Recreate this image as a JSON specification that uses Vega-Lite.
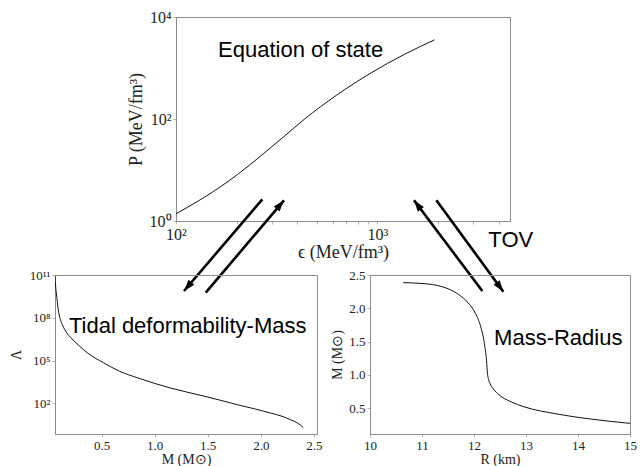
{
  "$schema": "https://vega.github.io/schema/vega-lite/v6.json",
  "background": "white",
  "padding": {"left": 8, "top": 8, "right": 5, "bottom": 2},
  "config": {
    "view": {"stroke": "#8c8c8c", "strokeWidth": 1},
    "axis": {
      "labelFont": "Liberation Serif",
      "titleFont": "Liberation Serif",
      "labelColor": "#222222",
      "titleColor": "#222222",
      "titleFontWeight": "normal",
      "domainColor": "#8c8c8c",
      "tickColor": "#b5b5b5",
      "tickSize": 3,
      "grid": false,
      "labelFlush": false,
      "labelOverlap": false,
      "labelPadding": 2
    }
  },
  "datasets": {
    "eos": [
      {"energy_density": 100, "pressure": 1.39},
      {"energy_density": 138, "pressure": 2.9},
      {"energy_density": 202, "pressure": 8.15},
      {"energy_density": 274, "pressure": 21.4},
      {"energy_density": 345, "pressure": 45.9},
      {"energy_density": 433, "pressure": 98.2},
      {"energy_density": 632, "pressure": 299},
      {"energy_density": 931, "pressure": 802},
      {"energy_density": 1362, "pressure": 1849},
      {"energy_density": 1923, "pressure": 3565}
    ],
    "tidal": [
      {"mass": 0.06, "lambda": 8.9e10},
      {"mass": 0.065, "lambda": 2.0e10},
      {"mass": 0.075, "lambda": 4.0e9},
      {"mass": 0.09, "lambda": 4.0e8},
      {"mass": 0.11, "lambda": 7.9e7},
      {"mass": 0.13, "lambda": 3.2e7},
      {"mass": 0.17, "lambda": 8.9e6},
      {"mass": 0.21, "lambda": 4.0e6},
      {"mass": 0.29, "lambda": 1.05e6},
      {"mass": 0.37, "lambda": 3.3e5},
      {"mass": 0.52, "lambda": 6.9e4},
      {"mass": 0.67, "lambda": 1.78e4},
      {"mass": 0.84, "lambda": 6170},
      {"mass": 1.0, "lambda": 2510},
      {"mass": 1.15, "lambda": 1200},
      {"mass": 1.3, "lambda": 631},
      {"mass": 1.47, "lambda": 316},
      {"mass": 1.62, "lambda": 166},
      {"mass": 1.78, "lambda": 81},
      {"mass": 1.94, "lambda": 42},
      {"mass": 2.09, "lambda": 21.4},
      {"mass": 2.2, "lambda": 12.6},
      {"mass": 2.28, "lambda": 7.2},
      {"mass": 2.34, "lambda": 4.5},
      {"mass": 2.38, "lambda": 2.8},
      {"mass": 2.4, "lambda": 2.0}
    ],
    "mass_radius": [
      {"radius": 10.64, "mass": 2.385},
      {"radius": 11.04, "mass": 2.37},
      {"radius": 11.36, "mass": 2.33},
      {"radius": 11.68, "mass": 2.22},
      {"radius": 11.87, "mass": 2.095},
      {"radius": 12.03, "mass": 1.92},
      {"radius": 12.13, "mass": 1.72},
      {"radius": 12.2, "mass": 1.47},
      {"radius": 12.24, "mass": 1.22},
      {"radius": 12.26, "mass": 1.015},
      {"radius": 12.28, "mass": 0.93},
      {"radius": 12.31, "mass": 0.865},
      {"radius": 12.36, "mass": 0.8},
      {"radius": 12.45, "mass": 0.72},
      {"radius": 12.71, "mass": 0.595},
      {"radius": 12.96, "mass": 0.52},
      {"radius": 13.6, "mass": 0.41},
      {"radius": 14.24, "mass": 0.335},
      {"radius": 15.0, "mass": 0.27}
    ],
    "arrows": [
      {"arrow": "eos_to_tidal", "x_start": 268.4, "y_start": 2.665, "x_end": 109.6, "y_end": 0.0424},
      {"arrow": "tidal_to_eos", "x_start": 140.5, "y_start": 0.0393, "x_end": 343.9, "y_end": 2.546},
      {"arrow": "mr_to_eos", "x_start": 3323, "y_start": 0.0424, "x_end": 1521, "y_end": 2.546},
      {"arrow": "eos_to_mr", "x_start": 1964, "y_start": 2.546, "x_end": 4226, "y_end": 0.0411}
    ]
  },
  "bounds": "flush",
  "spacing": 258,
  "vconcat": [
    {
      "bounds": "flush",
      "spacing": 0,
      "hconcat": [
        {
          "width": 121,
          "height": 204,
          "view": {"stroke": null},
          "data": {"values": []},
          "mark": {"type": "point", "opacity": 0},
          "encoding": {}
        },
        {
          "width": 334,
          "height": 204,
          "layer": [
            {
              "data": {"name": "eos"},
              "mark": {"type": "line", "color": "#111111", "strokeWidth": 1, "interpolate": "monotone", "clip": true},
              "encoding": {
                "x": {
                  "field": "energy_density", "type": "quantitative",
                  "scale": {"type": "log", "domain": [100, 4560], "nice": false},
                  "axis": {
                    "title": "ϵ (MeV/fm³)", "titleFontSize": 18, "labelFontSize": 16, "titlePadding": 1, "tickCount": 30,
                    "values": [100, 200, 300, 400, 500, 600, 700, 800, 900, 1000, 2000, 3000, 4000],
                    "labelExpr": "datum.value == 100 ? '10²' : datum.value == 1000 ? '10³' : ''"
                  }
                },
                "y": {
                  "field": "pressure", "type": "quantitative",
                  "scale": {"type": "log", "domain": [1, 10000], "nice": false},
                  "axis": {
                    "title": "P (MeV/fm³)", "titleFontSize": 18, "labelFontSize": 16, "titlePadding": 4, "tickCount": 30,
                    "values": [1, 100, 10000],
                    "labelExpr": "datum.value == 1 ? '10⁰' : datum.value == 100 ? '10²' : '10⁴'"
                  }
                }
              }
            },
            {
              "data": {"name": "arrows"},
              "mark": {"type": "rule", "color": "black", "strokeWidth": 2.6, "clip": false},
              "encoding": {
                "x": {"field": "x_start", "type": "quantitative"},
                "y": {"field": "y_start", "type": "quantitative"},
                "x2": {"field": "x_end"},
                "y2": {"field": "y_end"}
              }
            },
            {
              "data": {"name": "arrows"},
              "transform": [{"filter": "datum.arrow == 'eos_to_tidal'"}],
              "mark": {"type": "point", "shape": "M0,0L0.6,1.8L-0.6,1.8Z", "size": 160, "filled": true, "opacity": 1, "color": "black", "angle": 220.3, "clip": false},
              "encoding": {
                "x": {"field": "x_end", "type": "quantitative"},
                "y": {"field": "y_end", "type": "quantitative"}
              }
            },
            {
              "data": {"name": "arrows"},
              "transform": [{"filter": "datum.arrow == 'tidal_to_eos'"}],
              "mark": {"type": "point", "shape": "M0,0L0.6,1.8L-0.6,1.8Z", "size": 160, "filled": true, "opacity": 1, "color": "black", "angle": 40.2, "clip": false},
              "encoding": {
                "x": {"field": "x_end", "type": "quantitative"},
                "y": {"field": "y_end", "type": "quantitative"}
              }
            },
            {
              "data": {"name": "arrows"},
              "transform": [{"filter": "datum.arrow == 'mr_to_eos'"}],
              "mark": {"type": "point", "shape": "M0,0L0.6,1.8L-0.6,1.8Z", "size": 160, "filled": true, "opacity": 1, "color": "black", "angle": 323, "clip": false},
              "encoding": {
                "x": {"field": "x_end", "type": "quantitative"},
                "y": {"field": "y_end", "type": "quantitative"}
              }
            },
            {
              "data": {"name": "arrows"},
              "transform": [{"filter": "datum.arrow == 'eos_to_mr'"}],
              "mark": {"type": "point", "shape": "M0,0L0.6,1.8L-0.6,1.8Z", "size": 160, "filled": true, "opacity": 1, "color": "black", "angle": 143.8, "clip": false},
              "encoding": {
                "x": {"field": "x_end", "type": "quantitative"},
                "y": {"field": "y_end", "type": "quantitative"}
              }
            },
            {
              "data": {"values": [{"label": "Equation of state", "energy_density": 161.7, "pressure": 1643}]},
              "mark": {"type": "text", "font": "Liberation Sans", "fontSize": 22, "align": "left", "baseline": "alphabetic", "color": "black", "clip": false},
              "encoding": {
                "x": {"field": "energy_density", "type": "quantitative"},
                "y": {"field": "pressure", "type": "quantitative"},
                "text": {"field": "label"}
              }
            },
            {
              "data": {"values": [{"label": "TOV", "energy_density": 4599, "pressure": 0.418}]},
              "mark": {"type": "text", "font": "Liberation Sans", "fontSize": 22, "align": "center", "baseline": "middle", "color": "black", "clip": false},
              "encoding": {
                "x": {"field": "energy_density", "type": "quantitative"},
                "y": {"field": "pressure", "type": "quantitative"},
                "text": {"field": "label"}
              }
            }
          ]
        }
      ]
    },
    {
      "bounds": "flush",
      "spacing": 53,
      "hconcat": [
        {
          "width": 262,
          "height": 159,
          "layer": [
            {
              "data": {"name": "tidal"},
              "mark": {"type": "line", "color": "#111111", "strokeWidth": 1, "interpolate": "monotone", "clip": true},
              "encoding": {
                "x": {
                  "field": "mass", "type": "quantitative",
                  "scale": {"domain": [0.06, 2.53], "nice": false, "zero": false},
                  "axis": {"title": "M (M⊙)", "titleFontSize": 14, "labelFontSize": 13, "titlePadding": 0, "tickCount": 30, "values": [0.5, 1, 1.5, 2, 2.5], "format": ".1f"}
                },
                "y": {
                  "field": "lambda", "type": "quantitative",
                  "scale": {"type": "log", "domain": [0.72, 1e11], "nice": false},
                  "axis": {
                    "title": "Λ", "titleFontSize": 14, "labelFontSize": 13, "titlePadding": 6, "tickCount": 30,
                    "values": [100, 100000, 100000000, 100000000000],
                    "labelExpr": "datum.value == 100 ? '10²' : datum.value == 100000 ? '10⁵' : datum.value == 100000000 ? '10⁸' : '10¹¹'"
                  }
                }
              }
            },
            {
              "data": {"values": [{"label": "Tidal deformability-Mass", "mass": 0.191, "lambda": 9.2e6}]},
              "mark": {"type": "text", "font": "Liberation Sans", "fontSize": 22, "align": "left", "baseline": "alphabetic", "color": "black", "clip": false},
              "encoding": {
                "x": {"field": "mass", "type": "quantitative"},
                "y": {"field": "lambda", "type": "quantitative"},
                "text": {"field": "label"}
              }
            }
          ]
        },
        {
          "width": 260,
          "height": 159,
          "layer": [
            {
              "data": {"name": "mass_radius"},
              "mark": {"type": "line", "color": "#111111", "strokeWidth": 1, "interpolate": "monotone", "clip": true},
              "encoding": {
                "x": {
                  "field": "radius", "type": "quantitative",
                  "scale": {"domain": [10, 15], "nice": false, "zero": false},
                  "axis": {"title": "R (km)", "titleFontSize": 14, "labelFontSize": 13, "titlePadding": 0, "tickCount": 30, "values": [10, 11, 12, 13, 14, 15], "format": "d"}
                },
                "y": {
                  "field": "mass", "type": "quantitative",
                  "scale": {"domain": [0.11, 2.5], "nice": false, "zero": false},
                  "axis": {"title": "M (M⊙)", "titleFontSize": 14, "labelFontSize": 13, "titlePadding": 4, "tickCount": 30, "values": [0.5, 1, 1.5, 2, 2.5], "format": ".1f"}
                }
              }
            },
            {
              "data": {"values": [{"label": "Mass-Radius", "radius": 12.386, "mass": 1.443}]},
              "mark": {"type": "text", "font": "Liberation Sans", "fontSize": 22, "align": "left", "baseline": "alphabetic", "color": "black", "clip": false},
              "encoding": {
                "x": {"field": "radius", "type": "quantitative"},
                "y": {"field": "mass", "type": "quantitative"},
                "text": {"field": "label"}
              }
            }
          ]
        }
      ]
    }
  ]
}
